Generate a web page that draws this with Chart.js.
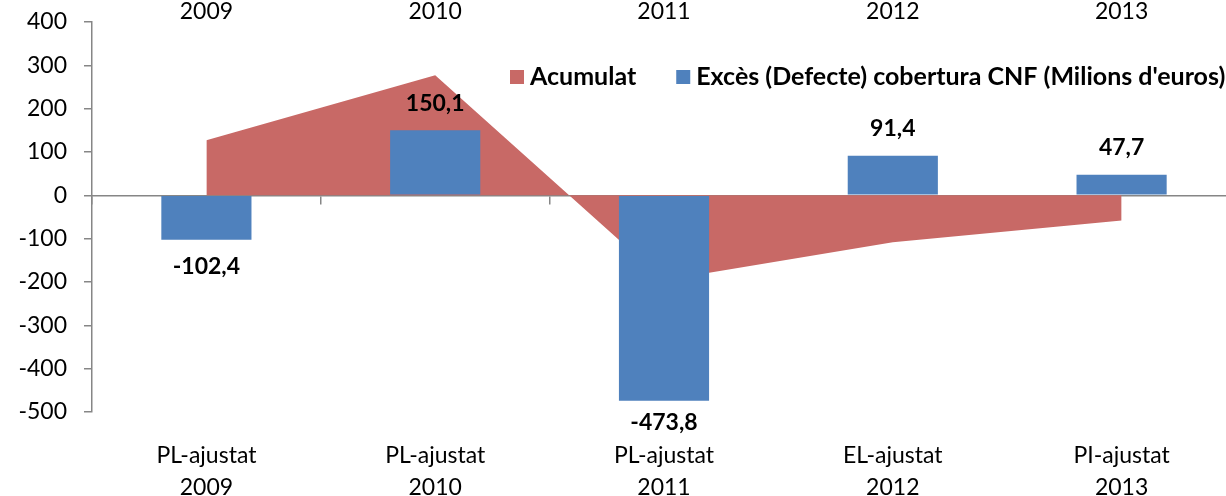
<!DOCTYPE html>
<html>
<head>
<meta charset="utf-8">
<script src="https://cdn.jsdelivr.net/npm/chart.js@4"></script>
<style>
  html, body { margin: 0; padding: 0; background: #fff; overflow: hidden; }
  #wrap { width: 1240px; height: 496px; }
</style>
</head>
<body>
<div id="wrap"><canvas id="myChart"></canvas></div>
<script>
const plans = ['PL-ajustat', 'PL-ajustat', 'PL-ajustat', 'EL-ajustat', 'PI-ajustat'];
const years = ['2009', '2010', '2011', '2012', '2013'];
const acumulat = [127, 277, -196, -108, -58];
const exces = [-102.4, 150.1, -473.8, 91.4, 47.7];
const yTicks = [400, 300, 200, 100, 0, -100, -200, -300, -400, -500];

const FONT = "Lato, 'Open Sans', sans-serif";
const GREY = '#868686';

// value labels at the end of each bar
const barLabels = {
  id: 'bar-labels',
  afterDatasetsDraw(chart) {
    const meta = chart.getDatasetMeta(1);
    const { ctx, chartArea } = chart;
    ctx.save();
    ctx.font = `bold 23px ${FONT}`;
    ctx.fillStyle = '#000';
    ctx.textAlign = 'center';
    ctx.textBaseline = 'middle';
    meta.data.forEach((bar, i) => {
      const v = exces[i];
      let y = v >= 0 ? bar.y - 27 : bar.y + 27;
      y = Math.min(y, chartArea.bottom + 11);
      ctx.fillText(v.toFixed(1).replace('.', ','), bar.x, y);
    });
    ctx.restore();
  },
};

// legend floating inside the plot, like the spreadsheet one
const floatLegend = {
  id: 'float-legend',
  afterDraw(chart) {
    const { ctx } = chart;
    let x = 510;
    const y = 77;
    ctx.save();
    ctx.font = `bold 25px ${FONT}`;
    ctx.textBaseline = 'middle';
    ctx.textAlign = 'left';
    chart.data.datasets.forEach((ds) => {
      ctx.fillStyle = ds.backgroundColor;
      ctx.fillRect(x, y - 7, 14, 14);
      x += 20;
      ctx.fillStyle = '#000';
      ctx.fillText(ds.label, x, y);
      x += ctx.measureText(ds.label).width + 40;
    });
    ctx.restore();
  },
};

const context = document.getElementById('myChart').getContext('2d');
new Chart(context, {
  data: {
    labels: plans.map((p, i) => [p, years[i]]),
    datasets: [
      {
        type: 'line',
        label: 'Acumulat',
        data: acumulat,
        fill: 'origin',
        backgroundColor: '#C86966',
        borderColor: '#C86966',
        borderWidth: 0,
        pointRadius: 0,
        tension: 0,
        order: 1,
      },
      {
        type: 'bar',
        label: "Excès (Defecte) cobertura CNF (Milions d'euros)",
        data: exces,
        backgroundColor: '#4F81BD',
        borderColor: '#4F81BD',
        categoryPercentage: 1,
        barPercentage: 0.394,
        order: 0,
      },
    ],
  },
  plugins: [barLabels, floatLegend],
  options: {
    responsive: true,
    maintainAspectRatio: false,
    animation: false,
    layout: { padding: { left: 0, right: 4, top: 0, bottom: 0 } },
    plugins: {
      title: { display: false },
      tooltip: { enabled: false },
      legend: { display: false },
    },
    scales: {
      x: {
        position: 'bottom',
        offset: true,
        grid: { display: false },
        border: { display: false },
        ticks: {
          color: '#000',
          padding: 19,
          maxRotation: 0,
          autoSkip: false,
          font: { family: FONT, size: 23, lineHeight: 1.42 },
        },
        afterFit(scale) {
          scale.height = 84;
        },
      },
      xt: {
        type: 'category',
        position: 'top',
        labels: years,
        offset: true,
        grid: { display: false },
        border: { display: false },
        ticks: {
          color: '#000',
          padding: -11,
          maxRotation: 0,
          autoSkip: false,
          font: { family: FONT, size: 23 },
        },
        afterFit(scale) {
          scale.height = 22;
        },
      },
      xz: {
        type: 'category',
        position: { y: 0 },
        offset: true,
        grid: {
          offset: true,
          drawOnChartArea: false,
          tickLength: 8,
          color: GREY,
          lineWidth: 1.5,
        },
        border: { color: GREY, width: 1.5 },
        ticks: { display: false },
      },
      y: {
        min: -500,
        max: 400,
        afterBuildTicks(scale) {
          scale.ticks = yTicks.map((value) => ({ value }));
        },
        grid: {
          drawOnChartArea: false,
          tickLength: 8,
          tickColor: GREY,
          lineWidth: 1.5,
        },
        border: { color: GREY, width: 1.5 },
        ticks: {
          color: '#000',
          padding: 17,
          font: { family: FONT, size: 23 },
        },
        afterFit(scale) {
          scale.width = 92;
          scale.paddingTop = 8;
          scale.paddingBottom = 8;
        },
      },
    },
  },
});
</script>
</body>
</html>
